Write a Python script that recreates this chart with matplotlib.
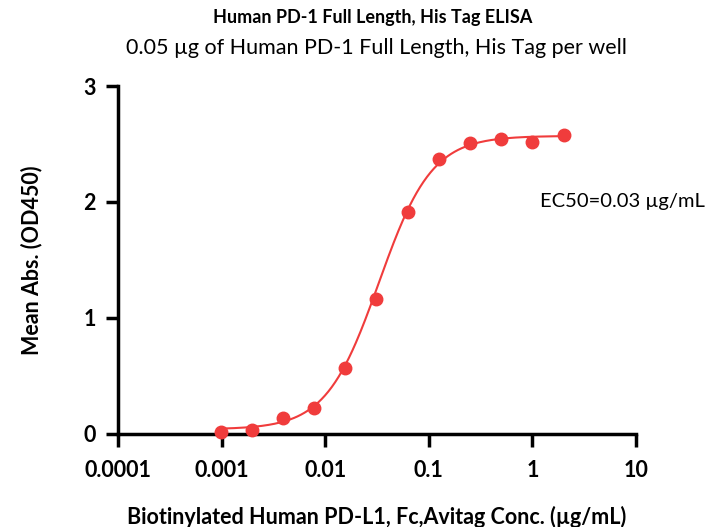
import numpy as np
import matplotlib.pyplot as plt

plt.rcParams['font.family'] = ['Lato', 'DejaVu Sans']

# dilution series (ug/mL) and mean OD450
conc = [0.000977, 0.00195, 0.0039, 0.0078, 0.0156, 0.03125,
        0.0625, 0.125, 0.25, 0.5, 1.0, 2.0]
od450 = [0.017, 0.034, 0.14, 0.22, 0.57, 1.16,
         1.91, 2.37, 2.51, 2.54, 2.52, 2.58]

# 4PL fit parameters
bottom, top, ec50, hill = 0.04, 2.57, 0.033, 1.7

xticks = [0.0001, 0.001, 0.01, 0.1, 1, 10]
xticklabels = ['0.0001', '0.001', '0.01', '0.1', '1', '10']
yticks = [0, 1, 2, 3]

red = '#F03C3C'

fig = plt.figure(figsize=(7.15, 5.27), dpi=100)
ax = fig.add_axes([0.165, 0.1765, 0.7245, 0.6603])

xs = np.logspace(np.log10(conc[0]), np.log10(conc[-1]), 300)
ys = bottom + (top - bottom) / (1 + (ec50 / xs) ** hill)
ax.plot(xs, ys, color=red, lw=1.5, zorder=2)
ax.plot(conc, od450, 'o', color=red, ms=9, zorder=3, clip_on=False)

ax.set_xscale('log')
ax.set_xlim(0.0001, 10)
ax.set_ylim(0, 3)
ax.set_xticks(xticks)
ax.set_xticklabels(xticklabels)
ax.set_yticks(yticks)
ax.minorticks_off()

for s in ['top', 'right']:
    ax.spines[s].set_visible(False)
for s in ['left', 'bottom']:
    ax.spines[s].set_linewidth(2.5)
ax.tick_params(axis='both', width=2.5, length=9, direction='out', labelsize=15.5)
ax.tick_params(axis='x', pad=10)
ax.tick_params(axis='y', pad=7)
for lab in ax.get_xticklabels() + ax.get_yticklabels():
    lab.set_fontweight('bold')

fig.text(0.527, 1 - 517 / 527, 'Biotinylated Human PD-L1, Fc,Avitag Conc. (µg/mL)',
         ha='center', va='center', fontsize=15.5, fontweight='bold')
fig.text(32 / 715, 1 - 260 / 527, 'Mean Abs. (OD450)', rotation=90,
         ha='center', va='center', fontsize=15.5, fontweight='bold')

fig.text(0.521, 0.966, 'Human PD-1 Full Length, His Tag ELISA',
         ha='center', va='center', fontsize=13, fontweight='bold')
fig.text(0.527, 0.909, '0.05 µg of Human PD-1 Full Length, His Tag per well',
         ha='center', va='center', fontsize=15.5)
ax.text(0.815, 2.0, 'EC50=0.03 µg/mL', transform=ax.get_yaxis_transform(),
        ha='left', va='center', fontsize=14.5)

fig.savefig('out.png', dpi=100)
